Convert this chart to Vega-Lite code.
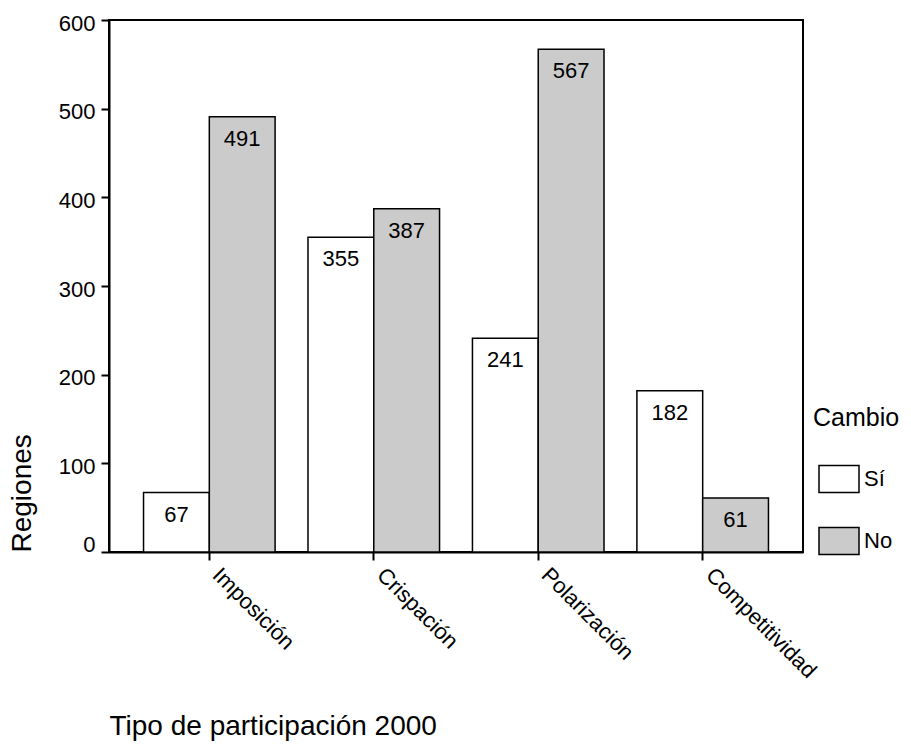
{
  "$schema": "https://vega.github.io/schema/vega-lite/v6.json",
  "width": 694,
  "height": 532,
  "padding": {"left": 8, "top": 12, "right": 5, "bottom": 5},
  "config": {
    "font": "Liberation Sans",
    "view": {"stroke": "black", "strokeWidth": 2},
    "axis": {
      "domainColor": "black", "domainWidth": 2,
      "tickColor": "black", "tickWidth": 2,
      "labelColor": "black", "titleColor": "black",
      "grid": false, "titleFontWeight": "normal"
    }
  },
  "data": {
    "values": [
      {"tipo": "Imposición", "cambio": "Sí", "regiones": 67},
      {"tipo": "Imposición", "cambio": "No", "regiones": 491},
      {"tipo": "Crispación", "cambio": "Sí", "regiones": 355},
      {"tipo": "Crispación", "cambio": "No", "regiones": 387},
      {"tipo": "Polarización", "cambio": "Sí", "regiones": 241},
      {"tipo": "Polarización", "cambio": "No", "regiones": 567},
      {"tipo": "Competitividad", "cambio": "Sí", "regiones": 182},
      {"tipo": "Competitividad", "cambio": "No", "regiones": 61}
    ]
  },
  "encoding": {
    "x": {
      "field": "tipo", "type": "nominal",
      "sort": ["Imposición", "Crispación", "Polarización", "Competitividad"],
      "scale": {"paddingInner": 0.2, "paddingOuter": 0.21},
      "axis": {
        "title": "Tipo de participación 2000",
        "titleAnchor": "start", "titleFontSize": 28, "titlePadding": 31,
        "labelAngle": 45, "labelFontSize": 22, "labelAlign": "left", "labelBaseline": "middle",
        "tickSize": 8, "labelPadding": 11, "labelOffset": 7
      }
    },
    "xOffset": {
      "field": "cambio", "type": "nominal", "sort": ["Sí", "No"],
      "scale": {"paddingInner": 0, "paddingOuter": 0}
    },
    "y": {
      "field": "regiones", "type": "quantitative",
      "scale": {"domain": [0, 600], "nice": false},
      "axis": {
        "title": "Regiones", "titleAnchor": "start", "titleFontSize": 28, "titlePadding": 22,
        "values": [0, 100, 200, 300, 400, 500, 600],
        "labelFontSize": 22, "tickSize": 8, "labelPadding": 6,
        "labelOffset": {"condition": {"test": "datum.value === 0", "value": -8}, "value": 3}
      }
    }
  },
  "layer": [
    {
      "mark": {"type": "bar", "stroke": "black", "strokeWidth": 1.5},
      "encoding": {
        "fill": {
          "field": "cambio", "type": "nominal", "sort": ["Sí", "No"],
          "scale": {"domain": ["Sí", "No"], "range": ["white", "#cbcbcb"]},
          "legend": {
            "title": "Cambio", "orient": "none", "legendX": 704, "legendY": 386,
            "titleFontSize": 25, "titleFontWeight": "normal", "titleColor": "black",
            "labelFontSize": 22, "labelColor": "black",
            "symbolType": "M-1,-0.675H1V0.675H-1Z", "symbolSize": 1600,
            "symbolStrokeColor": "black", "symbolStrokeWidth": 1.5, "symbolOffset": 5,
            "rowPadding": 24, "titlePadding": 27, "labelOffset": 4, "padding": 0
          }
        }
      }
    },
    {
      "mark": {"type": "text", "baseline": "top", "dy": 12, "fontSize": 22, "color": "black"},
      "encoding": {"text": {"field": "regiones", "type": "quantitative"}}
    }
  ]
}
